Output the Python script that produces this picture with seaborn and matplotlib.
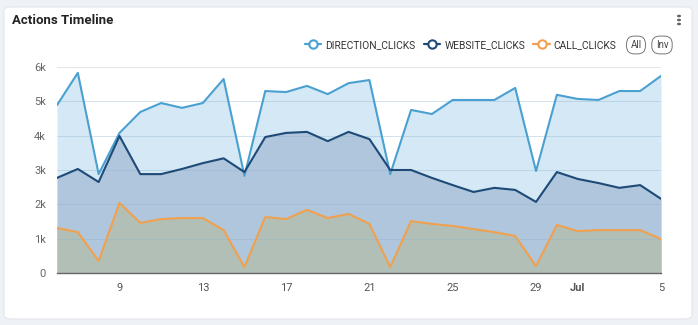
import matplotlib
matplotlib.use("Agg")
import matplotlib.pyplot as plt
from matplotlib.patches import FancyBboxPatch
from matplotlib.lines import Line2D
import numpy as np
import pandas as pd
import seaborn as sns

dates = pd.date_range("2024-06-06", "2024-07-05", freq="D")

direction_clicks = [4890, 5830, 2880, 4080, 4690, 4950, 4810, 4950, 5650, 2830,
                    5300, 5270, 5450, 5210, 5530, 5620, 2880, 4750, 4630, 5040,
                    5040, 5040, 5390, 2970, 5190, 5070, 5040, 5300, 5300, 5740]
website_clicks = [2770, 3030, 2650, 3990, 2880, 2880, 3030, 3200, 3340, 2940,
                  3960, 4080, 4110, 3840, 4110, 3900, 3000, 3000, 2770, 2560,
                  2360, 2480, 2420, 2070, 2940, 2740, 2620, 2480, 2560, 2160]
call_clicks = [1310, 1190, 350, 2040, 1460, 1570, 1600, 1600, 1250, 170,
               1630, 1570, 1840, 1600, 1720, 1430, 170, 1510, 1430, 1370,
               1280, 1190, 1080, 200, 1400, 1220, 1250, 1250, 1250, 990]

series_names = ["DIRECTION_CLICKS", "WEBSITE_CLICKS", "CALL_CLICKS"]
line_colors = ["#4aa0d0", "#1e4a78", "#f0a04e"]
fill_colors = ["#d4e8f6", "#b0c6dc", "#b2bfb6"]

y_ticks = [0, 1000, 2000, 3000, 4000, 5000, 6000]
y_labels = ["0", "1k", "2k", "3k", "4k", "5k", "6k"]

df = pd.DataFrame({
    "date": np.tile(dates, 3),
    "value": direction_clicks + website_clicks + call_clicks,
    "series": np.repeat(series_names, len(dates)),
})

sns.set_style("white")
plt.rcParams["font.family"] = ["Roboto", "DejaVu Sans"]

fig = plt.figure(figsize=(6.98, 3.25), dpi=100)
fig.patch.set_facecolor("#eef1f5")

# card background
card = FancyBboxPatch((4 / 698, 6 / 325), 688 / 698, 312 / 325,
                      boxstyle="round,pad=0,rounding_size=0.012",
                      transform=fig.transFigure, facecolor="white",
                      edgecolor="#e3e7ec", linewidth=0.8, zorder=-10)
fig.patches.append(card)

ax = fig.add_axes([57 / 698, 52 / 325, 604 / 698, 206 / 325])
ax.set_zorder(5)
ax.set_facecolor("none")

for name, lc, fc in zip(series_names, line_colors, fill_colors):
    sub = df[df["series"] == name]
    ax.fill_between(sub["date"], 0, sub["value"], color=fc, linewidth=0, zorder=1)

sns.lineplot(data=df, x="date", y="value", hue="series", palette=line_colors,
             hue_order=series_names, linewidth=1.5, legend=False, ax=ax, zorder=3)

ax.set_ylim(0, 6000)
ax.set_xlim(dates[0], dates[-1])
ax.set_yticks(y_ticks)
ax.set_yticklabels(y_labels)
for y in y_ticks[1:]:
    ax.axhline(y, color="#8fb4d0", linewidth=0.6, alpha=0.45, zorder=2)
ax.axhline(6000, color="#e3e6ea", linewidth=0.8, zorder=2)

tick_dates = pd.to_datetime(["2024-06-09", "2024-06-13", "2024-06-17", "2024-06-21",
                             "2024-06-25", "2024-06-29", "2024-07-01", "2024-07-05"])
tick_labels = ["9", "13", "17", "21", "25", "29", "Jul", "5"]
ax.set_xticks(tick_dates)
ax.set_xticklabels(tick_labels)
for lbl in ax.get_xticklabels():
    if lbl.get_text() == "Jul":
        lbl.set_fontweight("bold")

ax.set_xlabel("")
ax.set_ylabel("")
for s in ["top", "right", "left"]:
    ax.spines[s].set_visible(False)
ax.spines["bottom"].set_color("#666666")
ax.spines["bottom"].set_linewidth(1.0)
ax.spines["bottom"].set_zorder(4)
ax.tick_params(axis="x", colors="#555555", labelsize=8, length=4, width=0.8,
               direction="out", pad=3)
ax.tick_params(axis="y", colors="#666666", labelsize=8, length=0, pad=8)
ax.tick_params(axis="x", color="#666666")

# title and menu
fig.text(12 / 698, 1 - 20 / 325, "Actions Timeline", fontsize=9.5, fontweight="bold",
         color="#222222", va="center", ha="left")
for dy in (-4, 0, 4):
    fig.patches.append(plt.Circle((679 / 698, 1 - (20 + dy) / 325), 1.3 / 698,
                                  transform=fig.transFigure, color="#666666"))

# legend row
handles = [Line2D([0], [0], color=c, marker="o", markersize=6, markerfacecolor="white",
                  markeredgewidth=1.5, linewidth=1.6) for c in line_colors]
leg = fig.legend(handles, series_names, loc="center right",
                 bbox_to_anchor=(626 / 698, 1 - 45 / 325), ncol=3, frameon=False,
                 fontsize=7.4, handlelength=1.6, handletextpad=0.4, columnspacing=0.8)
for t in leg.get_texts():
    t.set_color("#333333")

for label, cx in (("All", 636), ("Inv", 662)):
    fig.text(cx / 698, 1 - 45 / 325, label, fontsize=7, color="#444444",
             ha="center", va="center",
             bbox=dict(boxstyle="round,pad=0.4,rounding_size=0.8",
                       facecolor="white", edgecolor="#777777", linewidth=0.7))

fig.savefig("out.png", dpi=100, facecolor=fig.get_facecolor())
